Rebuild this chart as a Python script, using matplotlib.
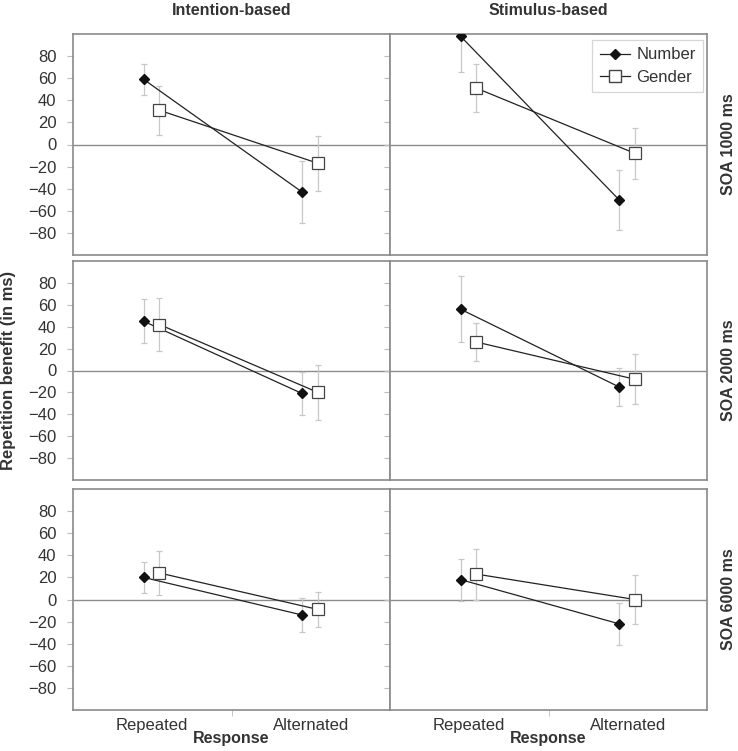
import numpy as np
import matplotlib
matplotlib.use("Agg")
import matplotlib.pyplot as plt
from matplotlib.lines import Line2D

plt.rcParams['font.family'] = ['Liberation Sans', 'DejaVu Sans']

# data
responses = ["Repeated", "Alternated"]
columns = ["Intention-based", "Stimulus-based"]
rows = ["SOA 1000 ms", "SOA 2000 ms", "SOA 6000 ms"]

# [row][col] -> values for Repeated, Alternated
number_mean = [
    [[59, -43], [98, -50]],
    [[45, -21], [56, -15]],
    [[20, -14], [18, -22]],
]
number_err = [
    [[14, 28], [32, 27]],
    [[20, 20], [30, 17]],
    [[14, 15], [19, 19]],
]
gender_mean = [
    [[31, -17], [51, -8]],
    [[42, -20], [26, -8]],
    [[24, -9], [23, 0]],
]
gender_err = [
    [[22, 25], [22, 23]],
    [[24, 25], [17, 23]],
    [[20, 16], [23, 22]],
]

yticks = [-80, -60, -40, -20, 0, 20, 40, 60, 80]

fig = plt.figure(figsize=(7.38, 7.51), dpi=100)

W, H = 738, 751
col_x = [73, 390]
col_w = 317
row_y = [(34, 255), (261, 480), (489, 710)]

frame = "#8a8a8a"
errc = "#c8c8c8"

x = np.arange(len(responses))
off_n = -0.055
off_g = 0.045

for r in range(3):
    for c in range(2):
        top, bot = row_y[r]
        ax = fig.add_axes([col_x[c] / W, 1 - bot / H, col_w / W, (bot - top) / H])
        ax.set_xlim(-0.5, 1.5)
        ax.set_ylim(-100, 100)
        ax.axhline(0, color="#8c8c8c", lw=1.0, zorder=1)

        nm = number_mean[r][c]
        ne = number_err[r][c]
        gm = gender_mean[r][c]
        ge = gender_err[r][c]

        ax.errorbar(x + off_n, nm, yerr=ne, fmt="none", ecolor=errc,
                    elinewidth=0.9, capsize=2.5, capthick=0.9, zorder=2)
        ax.errorbar(x + off_g, gm, yerr=ge, fmt="none", ecolor=errc,
                    elinewidth=0.9, capsize=2.5, capthick=0.9, zorder=2)
        ax.plot(x + off_n, nm, color="#222222", lw=0.9, marker="D",
                markersize=5.5, markerfacecolor="#111111",
                markeredgecolor="#111111", zorder=3)
        ax.plot(x + off_g, gm, color="#222222", lw=0.9, marker="s",
                markersize=8, markerfacecolor="white",
                markeredgecolor="#444444", markeredgewidth=0.9, zorder=4)

        for s in ax.spines.values():
            s.set_color(frame)
            s.set_linewidth(1.2)

        ax.set_yticks(yticks)
        ax.tick_params(axis="y", length=4, color="#bbbbbb", labelsize=12,
                       labelcolor="#333333", pad=8)
        if c == 1:
            ax.tick_params(axis="y", labelleft=False)

        ax.set_xticks(x)
        ax.set_xticks([0.5], minor=True)
        ax.tick_params(axis="x", which="major", length=0, labelsize=12,
                       labelcolor="#333333", pad=6)
        ax.tick_params(axis="x", which="minor", length=4, color="#bbbbbb")
        if r == 2:
            ax.set_xticklabels(responses)
            ax.set_xlabel("Response", fontsize=11.5, fontweight="bold",
                          color="#333333", labelpad=-2)
        else:
            ax.set_xticklabels([])
            ax.tick_params(axis="x", which="minor", length=0)

        if r == 0:
            ax.set_title(columns[c], fontsize=11.5, fontweight="bold",
                         color="#333333", pad=14)
        if c == 1:
            ax.text(1.068, 0.5, rows[r], transform=ax.transAxes, rotation=90,
                    ha="center", va="center", fontsize=11.5,
                    fontweight="bold", color="#333333")
        if r == 0 and c == 1:
            handles = [
                Line2D([], [], color="#222222", lw=0.9, marker="D",
                       markersize=5.5, markerfacecolor="#111111",
                       markeredgecolor="#111111"),
                Line2D([], [], color="#222222", lw=0.9, marker="s",
                       markersize=8, markerfacecolor="white",
                       markeredgecolor="#444444"),
            ]
            leg = ax.legend(handles, ["Number", "Gender"], loc="upper right",
                            fontsize=12, frameon=True, fancybox=False,
                            handlelength=1.8, handletextpad=0.4,
                            borderpad=0.45, borderaxespad=0,
                            bbox_to_anchor=(0.988, 0.973), labelspacing=0.45)
            leg.get_frame().set_edgecolor("#cccccc")
            leg.get_frame().set_linewidth(0.9)
            for t in leg.get_texts():
                t.set_color("#333333")

fig.text(0.012, 1 - 370 / H, "Repetition benefit (in ms)", rotation=90,
         ha="center", va="center", fontsize=12, fontweight="bold",
         color="#333333")

fig.savefig("out.png", dpi=100)
